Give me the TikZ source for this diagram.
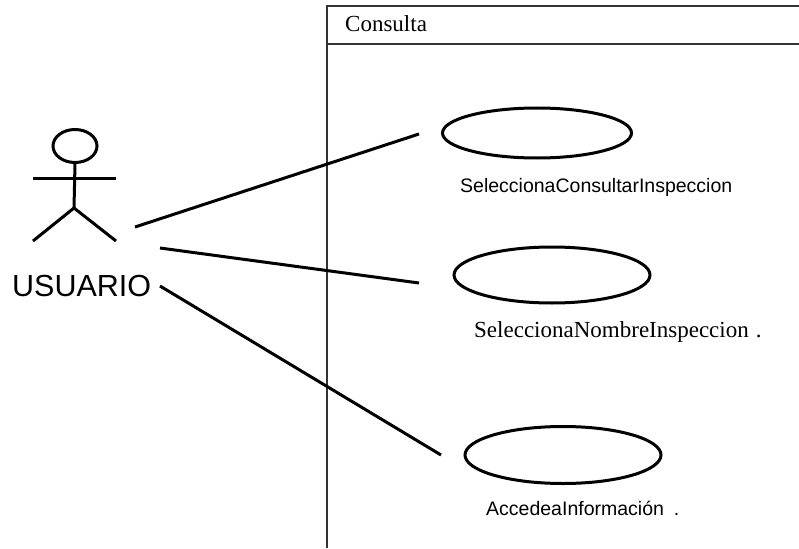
\documentclass[tikz,border=0pt]{standalone}
\usepackage{fontspec}
\setmainfont{Liberation Serif}
\newfontfamily\arialfont{Liberation Sans}
\usetikzlibrary{shapes.geometric}

\tikzset{
  frameline/.style={draw=black!80, line width=1.5pt},
  stick/.style={draw=black, line width=3pt},
  assoc/.style={draw=black, line width=3pt},
  usecase/.style={ellipse, draw=black, line width=3pt, inner sep=0pt},
  sanslabel/.style={anchor=base west, inner sep=0pt, font=\arialfont\fontsize{19.5pt}{23pt}\selectfont},
  seriflabel/.style={anchor=base west, inner sep=0pt, font=\fontsize{23pt}{27pt}\selectfont},
}

\begin{document}
\begin{tikzpicture}[x=1pt, y=-1pt]
  \useasboundingbox[fill=white] (0,0) rectangle (799,548);

  % system boundary
  \draw[frameline] (327,548) -- (327,6) -- (799,6);
  \draw[frameline] (327,44) -- (799,44);
  \node[seriflabel] (title) at (345,32) {Consulta};

  % actor
  \node[ellipse, draw=black, line width=3pt, minimum width=44pt, minimum height=33pt, inner sep=0pt] (head) at (75,146) {};
  \coordinate (hip) at (74,208);
  \draw[stick] (head.south) -- (hip);
  \draw[stick] (33,178) -- (116,178);
  \draw[stick] (33,241) -- (hip) -- (116,241);
  \node[anchor=base west, inner sep=0pt, font=\arialfont\fontsize{30.5pt}{36pt}\selectfont] (actor) at (12,296) {USUARIO};

  % use cases
  \node[usecase, minimum width=189pt, minimum height=50pt] (uc1) at (537,133) {};
  \node[sanslabel] (l1) at (460,192) {SeleccionaConsultarInspeccion};

  \node[usecase, minimum width=196pt, minimum height=56pt] (uc2) at (552,275) {};
  \node[seriflabel] (l2) at (474,337) {SeleccionaNombreInspeccion\hspace{7pt}.};

  \node[usecase, minimum width=196pt, minimum height=57pt] (uc3) at (563,455) {};
  \node[sanslabel] (l3) at (486,515) {AccedeaInformación\hspace{10pt}.};

  % associations
  \coordinate (s1) at (135,227);
  \coordinate (s2) at (160,248);
  \coordinate (s3) at (160,286);
  \coordinate (t1) at (419,134);
  \coordinate (t2) at (419,283);
  \coordinate (t3) at (441,455);
  \draw[assoc] (s1) -- (t1);
  \draw[assoc] (s2) -- (t2);
  \draw[assoc] (s3) -- (t3);
\end{tikzpicture}
\end{document}
